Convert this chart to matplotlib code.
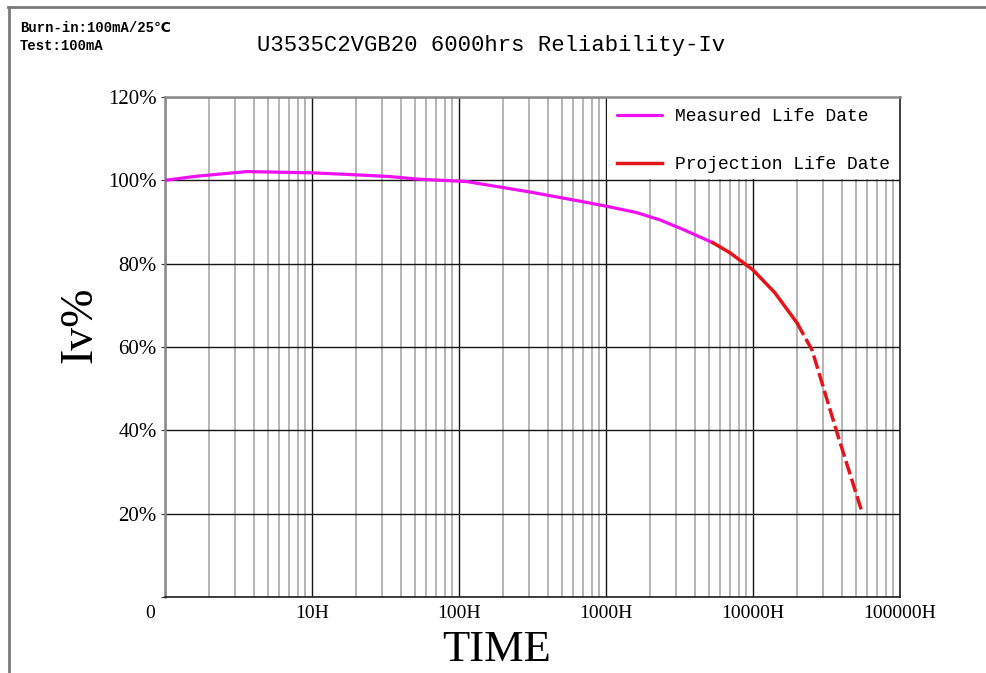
import matplotlib
matplotlib.use("Agg")
import matplotlib.pyplot as plt
import matplotlib.transforms as mtransforms
from matplotlib.lines import Line2D
from matplotlib.patches import Rectangle
from matplotlib.ticker import FixedLocator, NullFormatter, LogLocator

# ---- data ----
measured_t = [1, 1.65, 3.6, 10, 18, 34, 52, 113, 304, 665, 1000, 1600, 2330, 3300, 4360, 5350]
measured_v = [100, 101, 102.1, 101.8, 101.4, 100.9, 100.3, 99.7, 97.2, 95.0, 93.8, 92.3, 90.5, 88.3, 86.4, 85.0]
proj_t = [5350, 6980, 10000, 14100, 19900, 25200, 37300, 55100]
proj_v = [85.0, 82.6, 78.5, 73.0, 65.8, 59.3, 39.4, 20.4]
proj_split = 4  # index where the projection switches to dashed
x_ticks = [1, 10, 100, 1000, 10000, 100000]
x_labels = ["0", "10H", "100H", "1000H", "10000H", "100000H"]
y_ticks = [0, 20, 40, 60, 80, 100, 120]
y_labels = ["", "20%", "40%", "60%", "80%", "100%", "120%"]
title = "U3535C2VGB20 6000hrs Reliability-Iv"
note1 = "Burn-in:100mA/25\u2103"
note2 = "Test:100mA"
leg_labels = ["Measured Life Date", "Projection Life Date"]

W, H = 986, 673
fig = plt.figure(figsize=(W / 100, H / 100), dpi=100)
fig.patch.set_facecolor("white")

L, R, T, B = 165, 900, 97, 597
ax = fig.add_axes([L / W, 1 - B / H, (R - L) / W, (B - T) / H])
ax.set_xscale("log")
ax.set_xlim(1, 100000)
ax.set_ylim(0, 120)

MAG = "#f010f0"
RED = "#e5141a"

# grid
ax.xaxis.set_major_locator(FixedLocator(x_ticks))
ax.xaxis.set_minor_locator(LogLocator(base=10, subs=range(2, 10)))
ax.xaxis.set_minor_formatter(NullFormatter())
ax.set_axisbelow(True)
ax.grid(True, which="minor", axis="x", color="#a8a8a8", lw=1.2)
ax.grid(True, which="major", axis="x", color="#151515", lw=1.0)
ax.grid(True, which="major", axis="y", color="#151515", lw=1.0)

# white legend cell
ax.add_patch(Rectangle((1000 * 10 ** (1.2 / 147), 100.3), 100000 - 1000 * 10 ** (1.2 / 147), 20,
                       facecolor="white", edgecolor="none", zorder=1))

# curves
ax.plot(measured_t, measured_v, color=MAG, lw=2.3, solid_capstyle="round",
        solid_joinstyle="round", zorder=3, label=leg_labels[0])
ax.plot(proj_t[:proj_split + 1], proj_v[:proj_split + 1], color=RED, lw=2.5, zorder=3,
        solid_joinstyle="round", label=leg_labels[1])
ax.plot(proj_t[proj_split:], proj_v[proj_split:], color=RED, lw=2.5, zorder=3,
        linestyle=(0, (4, 1.3)))

# ticks
ax.set_xticks(x_ticks)
ax.set_xticklabels(x_labels, fontfamily="Liberation Serif", fontsize=14)
ax.set_yticks(y_ticks)
ax.set_yticklabels(y_labels, fontfamily="Liberation Serif", fontsize=15)
ax.tick_params(axis="x", which="both", length=0, pad=6)
ax.tick_params(axis="y", which="both", length=3, pad=3, color="#333333")
lbl0 = ax.get_xticklabels()[0]
lbl0.set_transform(lbl0.get_transform() + mtransforms.ScaledTranslation(-15 / 100, 0, fig.dpi_scale_trans))

for s in ["left", "top"]:
    ax.spines[s].set_color("#8a8a8a")
    ax.spines[s].set_linewidth(1.8)
for s in ["bottom", "right"]:
    ax.spines[s].set_color("#202020")
    ax.spines[s].set_linewidth(1.2)

# legend
leg = ax.legend(loc="upper left", bbox_to_anchor=(1000, 120), bbox_transform=ax.transData,
                frameon=False, prop={"family": "Liberation Mono", "size": 13},
                handlelength=2.5, handletextpad=0.7, labelspacing=1.75,
                borderaxespad=0, borderpad=0.6)
leg.set_zorder(5)

# labels
fig.text(80 / W, 1 - 325 / H, "Iv%", rotation=90, ha="center", va="center",
         fontfamily="Liberation Serif", fontsize=33)
fig.text(497 / W, 1 - 650 / H, "TIME", ha="center", va="center",
         fontfamily="Liberation Serif", fontsize=32)
fig.text(491 / W, 1 - 45 / H, title, ha="center", va="center",
         fontfamily="Liberation Mono", fontsize=16)
fams = ["Liberation Mono", "DejaVu Sans", "Noto Sans CJK SC"]
fig.text(20 / W, 1 - 28 / H, note1, ha="left", va="center",
         fontfamily=fams, fontsize=10, fontweight="semibold")
fig.text(20 / W, 1 - 46 / H, note2, ha="left", va="center",
         fontfamily=fams, fontsize=10, fontweight="semibold")

# figure border
fig.add_artist(Line2D([8 / W, 1.0], [1 - 7 / H, 1 - 7 / H], transform=fig.transFigure,
                      color="#7a7a7a", lw=2.0))
fig.add_artist(Line2D([9 / W, 9 / W], [1 - 7 / H, 0.0], transform=fig.transFigure,
                      color="#7a7a7a", lw=2.0))

fig.savefig("out.png", dpi=100, facecolor="white")
